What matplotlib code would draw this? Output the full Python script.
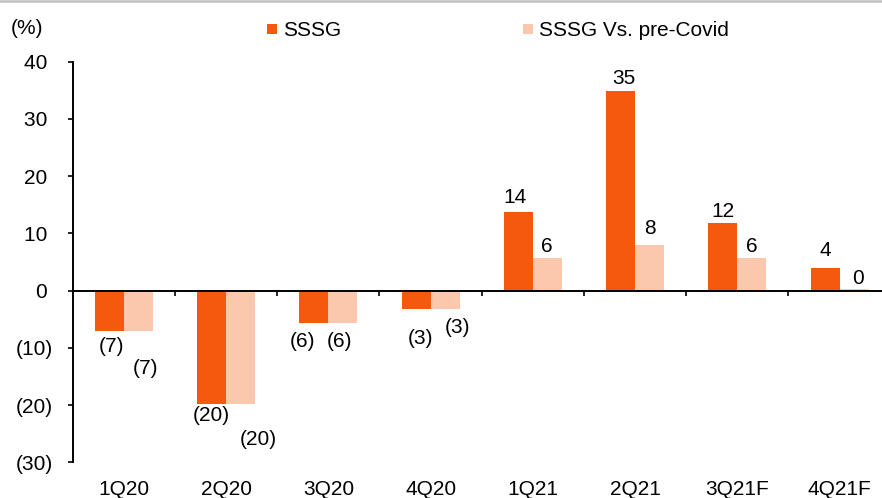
import matplotlib
matplotlib.use("Agg")
import matplotlib.pyplot as plt
import matplotlib.transforms as mtransforms
from matplotlib.lines import Line2D
import numpy as np

# Quarterly same-store sales growth (%)
quarters = ["1Q20", "2Q20", "3Q20", "4Q20", "1Q21", "2Q21", "3Q21F", "4Q21F"]
sssg = [-7.0, -19.9, -5.6, -3.3, 13.7, 34.8, 11.9, 3.9]
sssg_vs_precovid = [-7.0, -19.9, -5.6, -3.3, 5.7, 8.0, 5.7, 0.3]
series_names = ["SSSG", "SSSG Vs. pre-Covid"]
y_ticks = [-30, -20, -10, 0, 10, 20, 30, 40]

# label nudges (pixels) relative to each bar end
sssg_label_nudge = [(2, -16), (0, -11), (-11, -19), (4, -29),
                    (-3, 15), (3, 13), (0, 11), (0, 18)]
pre_label_nudge = [(7, -38), (18, -35), (-3, -19), (12, -18),
                   (0, 11), (0, 16), (0, 11), (4, 10)]

ORANGE = "#F4590E"
PEACH = "#FBC7AD"
FS = 15

plt.rcParams["font.family"] = ["Liberation Sans", "DejaVu Sans"]

fig = plt.figure(figsize=(8.82, 4.98), dpi=100)
ax = fig.add_axes([72.7 / 882, 1 - 462.3 / 498, 818 / 882, 400.6 / 498])

x = np.arange(len(quarters))
w = 0.283
ax.bar(x - w / 2, sssg, width=w, color=ORANGE, edgecolor="none", zorder=2)
ax.bar(x + w / 2, sssg_vs_precovid, width=w, color=PEACH, edgecolor="none", zorder=2)


def fmt(v):
    n = int(np.round(v))
    return f"({abs(n)})" if n < 0 else f"{n}"


for xs, vals, nudges in ((x - w / 2, sssg, sssg_label_nudge),
                         (x + w / 2, sssg_vs_precovid, pre_label_nudge)):
    for xi, v, (dx, dy) in zip(xs, vals, nudges):
        ax.annotate(fmt(v), (xi, v), xytext=(dx, dy), textcoords="offset pixels",
                    ha="center", va="center", fontsize=FS, color="black")

ax.set_xlim(-0.5, len(quarters) - 0.5)
ax.set_ylim(-30, 40)
ax.set_yticks(y_ticks)
ax.set_yticklabels([f"({abs(t)})" if t < 0 else f"{t} " for t in y_ticks])
ax.tick_params(axis="y", direction="out", length=3.6, width=1.2, pad=10.5,
               labelsize=FS, colors="black")

ax.spines["top"].set_visible(False)
ax.spines["right"].set_visible(False)
ax.spines["left"].set_linewidth(1.4)
ax.spines["bottom"].set_position(("data", 0))
ax.spines["bottom"].set_linewidth(1.4)
ax.spines["bottom"].set_zorder(3)
ax.set_xticks([])
ax.set_xticks(np.arange(0.5, len(quarters)), minor=True)
ax.tick_params(axis="x", which="minor", direction="out", length=3.6, width=1.2,
               labelbottom=False)

trans = mtransforms.blended_transform_factory(ax.transData, ax.transAxes)
for xi, q in zip(x, quarters):
    ax.text(xi, -0.067, q, transform=trans, ha="center", va="center",
            fontsize=FS, color="black")

fig.text(27 / 882, 1 - 28 / 498, "(%)", ha="center", va="center",
         fontsize=FS, color="black")

handles = [Line2D([], [], ls="none", marker="s", markersize=7.3,
                  markerfacecolor=c, markeredgewidth=0) for c in (ORANGE, PEACH)]
fig.legend(handles, series_names, loc="center left",
           bbox_to_anchor=(267 / 882, 1 - 31 / 498), ncol=2, frameon=False,
           fontsize=FS, handlelength=0.5, handletextpad=0.25,
           columnspacing=8.75, borderpad=0, borderaxespad=0)

# thin grey rule across the top
fig.add_artist(Line2D([0, 1], [1 - 1.2 / 498, 1 - 1.2 / 498],
                      transform=fig.transFigure, color="#BFBFBF", lw=1.8))

fig.savefig("out.png", dpi=100)
